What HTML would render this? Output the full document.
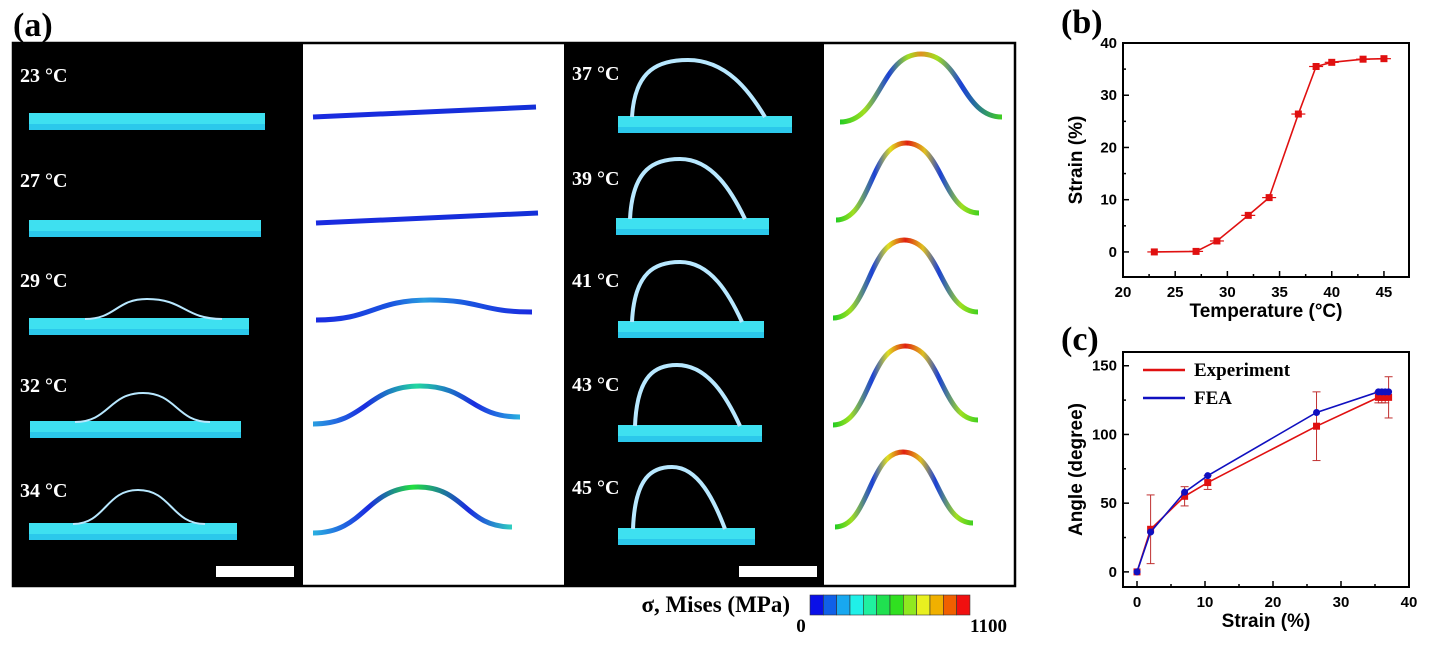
<!DOCTYPE html>
<html><head><meta charset="utf-8"><style>
html,body{margin:0;padding:0;background:#fff;width:1430px;height:645px;overflow:hidden}
svg{display:block}
.lbl{font-family:"Liberation Serif",serif;font-weight:bold;fill:#fff;font-size:20px}
.pl{font-family:"Liberation Serif",serif;font-weight:bold;font-size:34px;fill:#000}
.tk{font-family:"Liberation Sans",sans-serif;font-weight:bold;font-size:15px;fill:#000}
.at{font-family:"Liberation Sans",sans-serif;font-weight:bold;font-size:19px;fill:#000}
.lg{font-family:"Liberation Serif",serif;font-weight:bold;font-size:19px;fill:#000}
</style></head><body>
<svg id="fig" width="1430" height="645" viewBox="0 0 1430 645">
<defs>
<linearGradient id="gBlue" x1="0" x2="1"><stop offset="0" stop-color="#1a2be0"/><stop offset="1" stop-color="#1430d8"/></linearGradient>
<linearGradient id="g29" x1="0" x2="1"><stop offset="0" stop-color="#1a2be0"/><stop offset="0.35" stop-color="#1a55e0"/><stop offset="0.5" stop-color="#2a9ee0"/><stop offset="0.7" stop-color="#1a55e0"/><stop offset="1" stop-color="#1a2be0"/></linearGradient>
<linearGradient id="g32" x1="0" x2="1"><stop offset="0" stop-color="#2a9ee0"/><stop offset="0.25" stop-color="#1a2be0"/><stop offset="0.5" stop-color="#22d8a0"/><stop offset="0.78" stop-color="#1a2be0"/><stop offset="1" stop-color="#2ab0e0"/></linearGradient>
<linearGradient id="g34" x1="0" x2="1"><stop offset="0" stop-color="#2ab0e0"/><stop offset="0.28" stop-color="#1a2be0"/><stop offset="0.5" stop-color="#22e040"/><stop offset="0.78" stop-color="#1a2be0"/><stop offset="1" stop-color="#30d0c0"/></linearGradient>
<linearGradient id="gHot" x1="0" x2="1"><stop offset="0" stop-color="#22cc22"/><stop offset="0.12" stop-color="#a0e020"/><stop offset="0.27" stop-color="#1a40d8"/><stop offset="0.38" stop-color="#e0e020"/><stop offset="0.5" stop-color="#e02010"/><stop offset="0.62" stop-color="#e0c020"/><stop offset="0.73" stop-color="#1a40d8"/><stop offset="0.88" stop-color="#a0e020"/><stop offset="1" stop-color="#40d020"/></linearGradient>
<linearGradient id="g37" x1="0" x2="1"><stop offset="0" stop-color="#22cc22"/><stop offset="0.15" stop-color="#a0e020"/><stop offset="0.3" stop-color="#1a40d8"/><stop offset="0.42" stop-color="#a0e020"/><stop offset="0.5" stop-color="#e09020"/><stop offset="0.6" stop-color="#a0e020"/><stop offset="0.75" stop-color="#1a40d8"/><stop offset="1" stop-color="#40d020"/></linearGradient>
</defs>
<text class="pl" x="13" y="36">(a)</text>
<text class="pl" x="1061" y="33">(b)</text>
<text class="pl" x="1061" y="350">(c)</text>
<g><rect x="13" y="43" width="290" height="543" fill="#000"/></g>
<g><rect x="303" y="43" width="261" height="543" fill="#fff"/></g>
<g><rect x="564" y="43" width="260" height="543" fill="#000"/></g>
<rect x="13" y="43" width="1002" height="543" fill="none" stroke="#000" stroke-width="2.5"/>
<g id="photos"></g>
<g id="sims"></g>
<rect x="216" y="566" width="78" height="11" fill="#fff"/>
<rect x="739" y="566" width="78" height="11" fill="#fff"/>
<g id="cbar"></g>
<text x="790" y="612" text-anchor="end" style="font-family:'Liberation Serif',serif;font-weight:bold;font-size:23px">σ, Mises (MPa)</text>
<text x="801" y="632" text-anchor="middle" style="font-family:'Liberation Serif',serif;font-weight:bold;font-size:19px">0</text>
<text x="1007" y="632" text-anchor="end" style="font-family:'Liberation Serif',serif;font-weight:bold;font-size:19px">1100</text>
<g id="chartB"></g>
<g id="chartC"></g>
</svg>
<script>
const NS='http://www.w3.org/2000/svg';
function mk(tag,attrs,parent){const e=document.createElementNS(NS,tag);for(const k in attrs)e.setAttribute(k,attrs[k]);parent.appendChild(e);return e;}
const photos=document.getElementById('photos'), sims=document.getElementById('sims');
const leftRows=[["23 °C",20,82,29,265,113,0,0,0,0,0],["27 °C",20,187,29,261,220,0,0,0,0,0],["29 °C",20,287,29,249,318,85,147,299,222,0],["32 °C",20,392,30,241,421,75,143,393,210,0],["34 °C",20,497,29,237,523,73,138,490,205,0]];
const rightRows=[["37 °C",572,80,618,792,116,632,688,60,765,1],["39 °C",572,185,616,769,218,630,680,159,745,1],["41 °C",572,287,618,764,321,632,680,262,742,1],["43 °C",572,391,618,762,425,635,677,365,740,1],["45 °C",572,494,618,755,528,633,672,467,725,1]];
const sims0=[[313,117,420,112,536,107,'gBlue',1],[316,223,425,218,538,213,'gBlue',1],[316,320,430,300,532,312,'g29',0],[313,424,420,386,520,417,'g32',0],[313,533,418,487,512,527,'g34',0],[840,122,921,54,1002,117,'g37',0],[836,220,906,143,979,213,'gHot',0],[833,318,904,240,978,312,'gHot',0],[833,425,905,346,978,420,'gHot',0],[835,527,903,452,973,523,'gHot',0]];
[...leftRows,...rightRows].forEach(r=>{
  const g=mk('g',{},photos);
  
  
  mk('rect',{x:r[3],y:r[5],width:r[4]-r[3],height:17,fill:'#3ee0f0'},g);
  mk('rect',{x:r[3],y:r[5]+11,width:r[4]-r[3],height:6,fill:'#20b8e8',opacity:0.6},g);
  if(r[6]){
    const a=r[6],b=r[9],px=r[7],py=r[8],y=r[5]+1,h=y-py,w1=px-a,w2=b-px;
    let d;
    if(r[10]) d=`M${a},${y} C${a+0.05*w1},${py+0.15*h} ${px-0.5*w1},${py} ${px},${py} C${px+0.5*w2},${py} ${b-0.2*w2},${py+0.55*h} ${b},${y}`;
    else d=`M${a},${y} C${(a+px)/2},${y} ${(a+px)/2},${py} ${px},${py} C${(px+b)/2},${py} ${(px+b)/2},${y} ${b},${y}`;
    mk('path',{d:d,fill:'none',stroke:'#b8e8ff',"stroke-width":r[10]?4:2},g);
  }
  const t=mk('text',{x:r[1],y:r[2],class:'lbl'},g);t.textContent=r[0];
});
sims0.forEach(s=>{
  let d;
  if(s[7]) d=`M${s[0]},${s[1]} L${s[4]},${s[5]}`;
  else d=`M${s[0]},${s[1]} C${(s[0]+s[2])/2},${s[1]} ${(s[0]+s[2])/2},${s[3]} ${s[2]},${s[3]} C${(s[2]+s[4])/2},${s[3]} ${(s[2]+s[4])/2},${s[5]} ${s[4]},${s[5]}`;
  const p=mk('path',{d:d,fill:'none',stroke:`url(#${s[6]})`,"stroke-width":5},sims);
  
  
});
const cbColors=['#0a10e8','#1060e8','#18a8f0','#20f0e8','#20f0a0','#20e050','#30e020','#90e820','#e8f020','#f0b000','#f06000','#f01010'];
const cb=document.getElementById('cbar');
cbColors.forEach((c,i)=>{const r=mk('rect',{x:810+i*13.33,y:595,width:13.33,height:20,fill:c,stroke:'#333','stroke-width':0.6},cb);

});

const bTemp=[23,27,29,32,34,36.8,38.5,40,43,45];
const bStrain=[0,0.1,2.1,7,10.4,26.4,35.5,36.3,36.9,37];
const bXTicks=[20,25,30,35,40,45];
const bYTicks=[0,10,20,30,40];
const cStrainExp=[0,2,7,10.4,26.4,35.5,36,36.5,37];
const cAngleExp=[0,31,55,65,106,127,127,127,127];
const cErrExp=[0,25,7,5,25,4,4,4,15];
const cStrainFea=[0,2,7,10.4,26.4,35.5,36,36.5,37];
const cAngleFea=[0,29,58,70,116,131,131,131,131];
const cXTicks=[0,10,20,30,40];
const cYTicks=[0,50,100,150];

function axes(g,L,R,T,B,xs,ys,xt,yt,xminor,yminor,xmin,xmax,ymin,ymax,xtitle,ytitle,ytx){
  mk('rect',{x:L,y:T,width:R-L,height:B-T,fill:'none',stroke:'#000','stroke-width':2},g);
  for(let v=xmin;v<=xmax;v+=xminor){const x=xs(v);if(x<L||x>R)continue;const maj=xt.includes(v);
    mk('line',{x1:x,x2:x,y1:B,y2:B-(maj?6:3),stroke:'#000','stroke-width':1.5},g);}
  for(let v=ymin;v<=ymax;v+=yminor){const y=ys(v);if(y<T||y>B)continue;const maj=yt.includes(v);
    mk('line',{x1:L,x2:L+(maj?6:3),y1:y,y2:y,stroke:'#000','stroke-width':1.5},g);}
  xt.forEach(v=>{const t=mk('text',{x:xs(v),y:B+20,class:'tk','text-anchor':'middle'},g);t.textContent=v;
    });
  yt.forEach(v=>{const t=mk('text',{x:L-6,y:ys(v)+5,class:'tk','text-anchor':'end'},g);t.textContent=v;
    });
  const xT=mk('text',{x:(L+R)/2,y:B+40,class:'at','text-anchor':'middle'},g);xT.textContent=xtitle;
  
  const cy=(T+B)/2;const yT=mk('text',{x:ytx,y:cy,class:'at','text-anchor':'middle',transform:`rotate(-90 ${ytx} ${cy})`},g);yT.textContent=ytitle;
  
}
function series(g,xsArr,ysArr,xs,ys,color,marker,err,herr){
  const pts=xsArr.map((v,i)=>`${xs(v)},${ys(ysArr[i])}`).join(' ');
  const l=mk('polyline',{points:pts,fill:'none',stroke:color,'stroke-width':1.6},g);
  
  xsArr.forEach((v,i)=>{
    const x=xs(v),y=ys(ysArr[i]);
    if(err&&err[i]){mk('line',{x1:x,x2:x,y1:ys(ysArr[i]+err[i]),y2:ys(ysArr[i]-err[i]),stroke:'#c03030','stroke-width':1},g);
      [ysArr[i]+err[i],ysArr[i]-err[i]].forEach(e=>mk('line',{x1:x-4,x2:x+4,y1:ys(e),y2:ys(e),stroke:'#c03030','stroke-width':1},g));}
    if(herr){mk('line',{x1:x-7,x2:x+7,y1:y,y2:y,stroke:color,'stroke-width':1.2},g);}
    const m=marker==='c'?mk('circle',{cx:x,cy:y,r:3.5,fill:color},g):mk('rect',{x:x-3.5,y:y-3.5,width:7,height:7,fill:color},g);
    
  });
}
{const g=document.getElementById('chartB');const L=1123,R=1409,T=43,B=277,xmin=20,xmax=47.4,ymin=-4.8,ymax=40;
 const xs=v=>L+(v-xmin)/(xmax-xmin)*(R-L), ys=v=>B-(v-ymin)/(ymax-ymin)*(B-T);
 axes(g,L,R,T,B,xs,ys,bXTicks,bYTicks,2.5,5,20,47.5,0,40,'Temperature (°C)','Strain (%)',1082);
 series(g,bTemp,bStrain,xs,ys,'#e01010','s',null,true);}
{const g=document.getElementById('chartC');const L=1123,R=1409,T=352,B=587,xmin=-2.06,xmax=40,ymin=-11,ymax=160;
 const xs=v=>L+(v-xmin)/(xmax-xmin)*(R-L), ys=v=>B-(v-ymin)/(ymax-ymin)*(B-T);
 axes(g,L,R,T,B,xs,ys,cXTicks,cYTicks,5,25,0,40,0,150,'Strain (%)','Angle (degree)',1082);
 series(g,cStrainExp,cAngleExp,xs,ys,'#e01010','s',cErrExp,false);
 series(g,cStrainFea,cAngleFea,xs,ys,'#1010c0','c',null,false);
 const le=mk('g',{},g);
 mk('line',{x1:1143,x2:1185,y1:370,y2:370,stroke:'#e01010','stroke-width':2.5},le);
 const t1=mk('text',{x:1194,y:376,class:'lg'},le);t1.textContent='Experiment';
 mk('line',{x1:1143,x2:1185,y1:398,y2:398,stroke:'#1010c0','stroke-width':2.5},le);
 const t2=mk('text',{x:1194,y:404,class:'lg'},le);t2.textContent='FEA';}
</script>
</body></html>
